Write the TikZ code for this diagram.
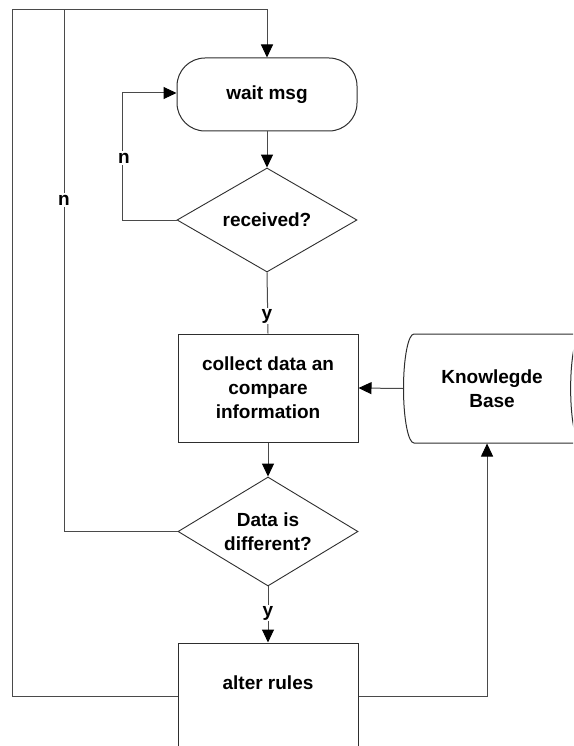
\documentclass[tikz,border=0pt]{standalone}
\usepackage{fontspec}
\setmainfont{Liberation Sans}
\usepackage{tikz}
\usetikzlibrary{arrows.meta,shapes.geometric}
\definecolor{linegray}{HTML}{4A4A4A}
\definecolor{edgegray}{HTML}{2E2E2E}

\begin{document}
\begin{tikzpicture}[
  x=1pt, y=-1pt,
  font=\fontsize{19}{24}\selectfont\bfseries,
  >={Triangle[length=13pt,width=12pt,color=black]},
  line/.style={draw=linegray, line width=1pt},
  flow/.style={line, ->},
  proc/.style={draw=edgegray, line width=1pt, fill=white, align=center,
               minimum width=180pt, inner sep=0pt},
  term/.style={proc, rounded corners=28pt, minimum height=73pt},
  decide/.style={diamond, draw=edgegray, line width=0.9pt, fill=white,
                 align=center, minimum width=180pt, inner sep=0pt, aspect=1.7},
  store/.style={cylinder, draw=edgegray, line width=1pt, fill=white,
                align=center, aspect=0.55, minimum height=188pt,
                minimum width=109pt, inner sep=0pt},
  yesno/.style={fill=white, inner sep=1.5pt}
]
\useasboundingbox (0,0) rectangle (573,746);
\clip (0,0) rectangle (573,746);

%% ---- main column ----------------------------------------------------------
\node[term] (wait) at (267,94.5) {wait msg};
\node[decide, minimum height=104pt] (recv) at (267,220) {received?};
\node[proc, minimum height=108pt] (collect) at (268,388)
  {collect data an\\compare\\information};
\node[decide, minimum height=109pt] (diff) at (268,531.5)
  {Data is\\different?};
\node[proc, minimum height=106pt, text depth=26pt] (alter) at (268,696)
  {alter rules};

%% ---- knowledge base (runs off the right edge) ------------------------------
\node[store, anchor=west] (kb) at (403,388.5) {Knowlegde\\Base};

\coordinate (outer) at (12,10);
\coordinate (inner) at (64,10);

%% ---- connectors -------------------------------------------------------------
\draw[flow] (wait) -- (recv);
\draw[flow] (recv.west) -- ++(-54,0) |- ([yshift=1.5pt]wait.west);
\draw[line] (recv.south) -- (collect.north);
\draw[flow] (collect) -- (diff);
\draw[flow] (diff.south) -- (alter.north);
\draw[flow] (kb.west) -- (collect.east);

\draw[flow] (alter.west) -| (outer) -| (wait.north);
\draw[line] (diff.west) -| (inner);
\draw[flow] (alter.east) -| ([xshift=-5pt]kb.south);

%% ---- branch labels ---------------------------------------------------------
\node[yesno] (nrecv) at (124,158) {n};
\node[yesno] (ndiff) at (64,200) {n};
\node[yesno] (yrecv) at (267,316) {y};
\node[yesno] (ydiff) at (268,613) {y};

\end{tikzpicture}
\end{document}
